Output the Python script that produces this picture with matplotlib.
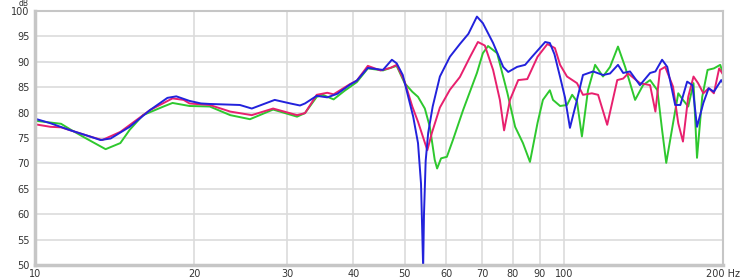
import matplotlib
matplotlib.use("Agg")
import matplotlib.pyplot as plt
from matplotlib.ticker import FixedLocator, NullLocator

# frequency response, three measurement positions (Hz, dB)
blue_hz = [10, 10.7, 11.6, 12.7, 13.3, 13.9, 15.1, 16.5, 17.8, 18.5, 19.6, 20.6, 21.4,
           24.4, 25.7, 28.4, 30.4, 31.7, 32.4, 34.1, 35.7, 37.3, 39.4, 40.6, 42.6,
           45.5, 47.3, 48.3, 49.6, 50.6, 51.9, 53.0, 53.7, 54.2, 54.4, 54.8, 55.4,
           56.5, 58.3, 60.9, 63.6, 66.0, 68.5, 70.3, 73.5, 76.8, 78.5, 81.6, 84.5,
           87.1, 92.2, 94.1, 96.0, 98.4, 100.5, 102.7, 105.9, 108.7, 113.6, 118.6,
           122.3, 126.6, 129.5, 133.4, 139.3, 145.6, 149.0, 153.4, 156.9, 162.4,
           166.1, 171.1, 175.1, 178.6, 183.6, 187.9, 192.2, 198.5, 200]
blue_db = [78.8, 77.9, 76.6, 75.3, 74.6, 74.9, 77.2, 80.5, 82.9, 83.2, 82.3, 81.8, 81.7,
           81.5, 80.8, 82.5, 81.8, 81.4, 81.8, 83.3, 83.0, 83.7, 85.5, 86.3, 88.8,
           88.4, 90.4, 89.7, 87.4, 83.8, 79.2, 74.0, 66.0, 49.5, 60.0, 70.5, 76.0,
           81.2, 87.1, 91.0, 93.5, 95.5, 98.9, 97.6, 93.7, 89.0, 88.0, 89.0, 89.4,
           91.0, 93.9, 93.7, 91.5, 87.0, 83.0, 77.0, 82.5, 87.4, 88.1, 87.4,
           87.7, 89.4, 87.8, 88.1, 85.4, 87.8, 88.1, 90.4, 89.0, 81.5,
           81.5, 86.1, 85.4, 77.2, 81.9, 84.8, 84.1, 86.4, 85.8]

pink_hz = [10, 10.7, 11.2, 12.7, 13.4, 14.5, 16.5, 18.2, 19.1, 19.6, 21.4, 23.4, 25.7,
           28.2, 31.3, 32.4, 34.1, 35.7, 36.7, 39.4, 40.6, 42.6, 45.0, 47.0, 48.3,
           50.0, 51.7, 53.0, 54.4, 55.2, 56.3, 58.3, 60.9, 63.6, 66.5, 68.8, 70.9,
           73.5, 75.7, 77.1, 79.1, 82.0, 85.3, 89.2, 93.1, 96.2, 98.4, 101.4, 105.9,
           108.7, 113.0, 116.1, 120.8, 126.2, 129.5, 132.3, 139.3, 145.6, 149.0,
           152.0, 155.5, 160.9, 164.6, 168.0, 171.9, 175.9, 179.4, 183.6, 187.9,
           192.2, 196.7, 200]
pink_db = [77.7, 77.2, 77.1, 75.3, 74.6, 76.2, 80.5, 82.8, 82.5, 81.8, 81.5, 80.2, 79.5,
           80.8, 79.5, 79.9, 83.5, 83.9, 83.6, 85.6, 86.3, 89.2, 88.3, 88.8, 89.4,
           86.1, 81.2, 78.2, 74.6, 72.6, 76.0, 81.0, 84.5, 87.0, 91.0, 93.9, 93.2,
           88.4, 82.5, 76.5, 82.5, 86.4, 86.6, 91.0, 93.5, 92.7, 89.4, 87.1, 85.8,
           83.5, 83.8, 83.5, 77.6, 86.4, 86.7, 87.7, 85.8, 85.4, 80.2,
           88.4, 89.0, 85.1, 77.9, 74.3, 83.1, 87.1, 85.8, 83.8, 84.8,
           83.8, 88.7, 87.5]

green_hz = [10, 11.2, 11.7, 12.5, 13.6, 14.5, 15.1, 16.0, 17.5, 18.2, 19.6, 21.4, 23.4,
            25.5, 28.2, 31.3, 32.4, 34.1, 35.0, 36.7, 38.5, 40.6, 42.6, 45.5, 48.3,
            50.0, 51.7, 53.0, 54.6, 55.8, 57.0, 57.6, 58.6, 60.1, 61.7, 64.5, 68.5,
            70.3, 71.9, 74.8, 78.2, 80.9, 83.7, 86.3, 89.2, 91.3, 94.1, 95.4, 98.4,
            101.4, 103.7, 105.9, 108.2, 111.1, 114.6, 118.6, 122.3, 126.6, 130.6,
            136.4, 141.2, 145.6, 150.3, 153.4, 156.2, 160.9, 164.6, 168.0, 171.9,
            175.9, 178.6, 182.7, 187.0, 192.2, 197.6, 200]
green_db = [78.4, 77.8, 76.6, 74.9, 72.8, 74.0, 76.6, 79.5, 81.2, 81.9, 81.3, 81.2, 79.5,
            78.7, 80.6, 79.2, 79.9, 83.1, 83.5, 82.6, 84.3, 86.0, 88.7, 88.3, 89.2,
            85.8, 84.1, 83.1, 80.8, 77.2, 70.7, 69.0, 71.0, 71.3, 74.6, 80.5, 87.8,
            91.7, 93.1, 91.7, 83.9, 77.2, 74.0, 70.3, 78.0, 82.5, 84.4, 82.5, 81.3,
            81.5, 83.5, 82.2, 75.3, 84.4, 89.4, 87.1, 89.0, 93.0, 89.0,
            82.5, 85.4, 86.4, 84.4, 76.6, 70.1, 77.9, 83.8, 82.5, 81.2,
            85.8, 71.1, 83.1, 88.4, 88.7, 89.4, 87.7]

x_ticks = [10, 20, 30, 40, 50, 60, 70, 80, 90, 100, 200]
x_labels = ["10", "20", "30", "40", "50", "60", "70", "80", "90", "100", "200 Hz"]
y_ticks = [50, 55, 60, 65, 70, 75, 80, 85, 90, 95, 100]

fig = plt.figure(figsize=(7.4, 2.8), dpi=100)
ax = fig.add_axes([35 / 740, 15 / 280, 688 / 740, 254 / 280])

line_kw = dict(lw=1.4, solid_joinstyle="round", solid_capstyle="round")
ax.plot(green_hz, green_db, color="#2ec82e", **line_kw)
ax.plot(pink_hz, pink_db, color="#e8206e", **line_kw)
ax.plot(blue_hz, blue_db, color="#2222dc", **line_kw)

ax.set_xscale("log")
ax.set_xlim(10, 200)
ax.set_ylim(50, 100)
ax.xaxis.set_major_locator(FixedLocator(x_ticks))
ax.xaxis.set_minor_locator(NullLocator())
ax.set_xticklabels(x_labels)
ax.set_yticks(y_ticks)
ax.tick_params(length=0, labelsize=7, colors="#333333")
ax.tick_params(axis="x", pad=3)
ax.tick_params(axis="y", pad=4)
ax.grid(True, color="#dcdcdc", lw=1.2)
ax.set_axisbelow(True)
for side in ax.spines.values():
    side.set_color("#c6c6c6")
    side.set_linewidth(1.5)
ax.spines["left"].set_linewidth(2.5)
ax.spines["bottom"].set_linewidth(2.5)

# unit label above the y axis
fig.text(24 / 740, 1 - 7.5 / 280, "dB", fontsize=5.5, color="#333333",
         ha="center", va="bottom")

fig.savefig("out.png", dpi=100)
